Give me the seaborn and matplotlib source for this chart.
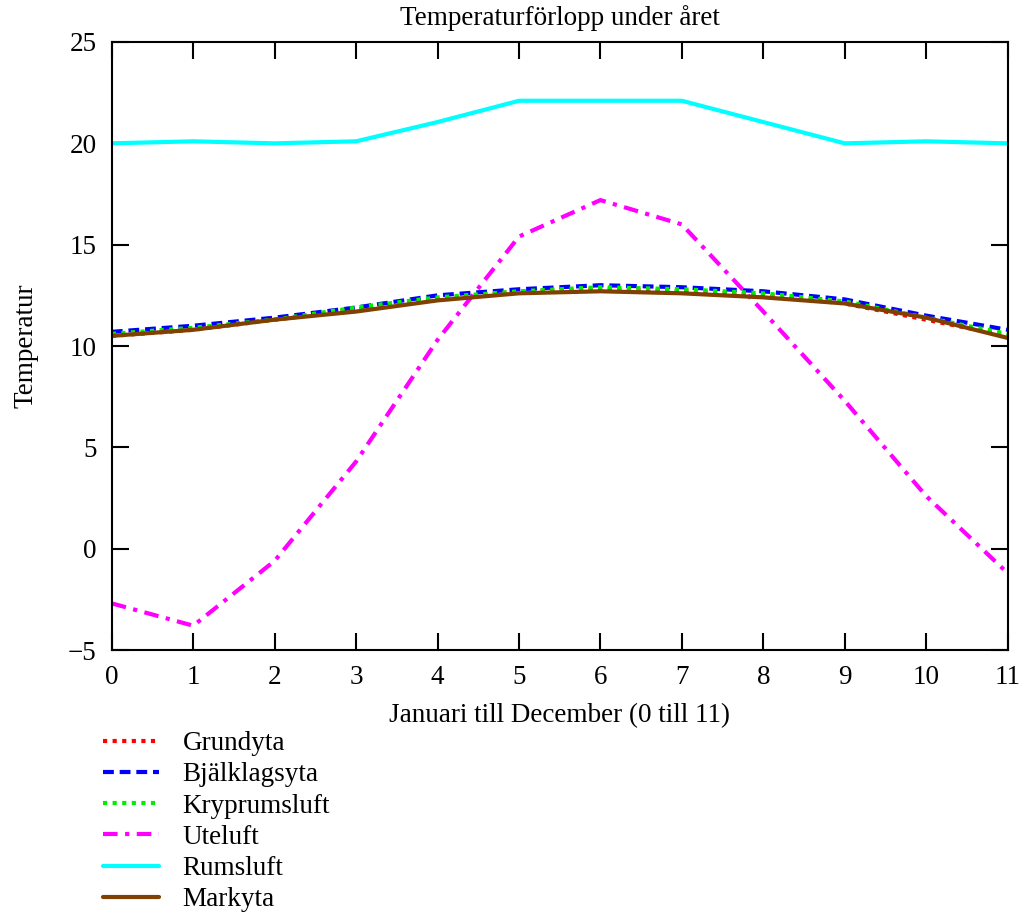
import numpy as np
import pandas as pd
import seaborn as sns
from matplotlib import pyplot as plt

month = list(range(12))
grundyta = [10.5, 10.8, 11.3, 11.8, 12.3, 12.7, 12.8, 12.7, 12.5, 12.1, 11.3, 10.5]
bjalklagsyta = [10.7, 11.0, 11.4, 11.9, 12.5, 12.8, 13.0, 12.9, 12.7, 12.3, 11.5, 10.8]
kryprumsluft = [10.6, 10.9, 11.3, 11.9, 12.4, 12.7, 12.9, 12.8, 12.6, 12.2, 11.4, 10.6]
uteluft = [-2.7, -3.8, -0.6, 4.3, 10.3, 15.4, 17.2, 16.0, 11.7, 7.3, 2.6, -1.2]
rumsluft = [20.0, 20.1, 20.0, 20.1, 21.05, 22.1, 22.1, 22.1, 21.05, 20.0, 20.1, 20.0]
markyta = [10.5, 10.8, 11.3, 11.7, 12.25, 12.6, 12.7, 12.6, 12.4, 12.1, 11.4, 10.4]

sns.set_style("white", {"text.color": "black", "axes.labelcolor": "black",
                        "xtick.color": "black", "ytick.color": "black"})
plt.rcParams['font.family'] = ['Liberation Serif', 'DejaVu Serif']
fs = 19.5

fig = plt.figure(figsize=(10.26, 9.15), dpi=100)
ax = fig.add_axes([0.109, 0.2896, 0.873, 0.6645])

series = [
    ("Grundyta", grundyta, "#ff0000", (0, (1, 1.3))),
    ("Bjälklagsyta", bjalklagsyta, "#0000ff", (0, (2.6, 1.4))),
    ("Kryprumsluft", kryprumsluft, "#00ee00", (0, (1, 1.3))),
    ("Uteluft", uteluft, "#ff00ff", (0, (3.5, 1.8, 1, 1.8))),
    ("Rumsluft", rumsluft, "#00ffff", "-"),
    ("Markyta", markyta, "#804000", "-"),
]
for name, vals, col, ls in series:
    sns.lineplot(x=month, y=vals, ax=ax, color=col, linestyle=ls, linewidth=3, label=name)

ax.set_xlim(0, 11)
ax.set_ylim(-5, 25)
ax.set_xticks(month)
ax.set_yticks(range(-5, 26, 5))
ax.tick_params(direction="in", length=12, width=1.5, bottom=True, left=True,
               top=True, right=True, labelsize=fs, pad=11, colors="black")
for s in ax.spines.values():
    s.set_linewidth(1.5)
    s.set_color("black")

ax.set_title("Temperaturförlopp under året", fontsize=fs, pad=12, color="black")
ax.set_xlabel("Januari till December (0 till 11)", fontsize=fs, labelpad=9, color="black")
ax.set_ylabel("Temperatur", fontsize=fs, labelpad=21, color="black")

leg = ax.legend(loc="upper left", bbox_to_anchor=(0.1, 0.201), bbox_transform=fig.transFigure,
                frameon=False, fontsize=fs, handlelength=2.1, handletextpad=0.85,
                labelspacing=0.23, borderaxespad=0, borderpad=0)
for t in leg.get_texts():
    t.set_color("black")

fig.savefig("out.png", dpi=100)
